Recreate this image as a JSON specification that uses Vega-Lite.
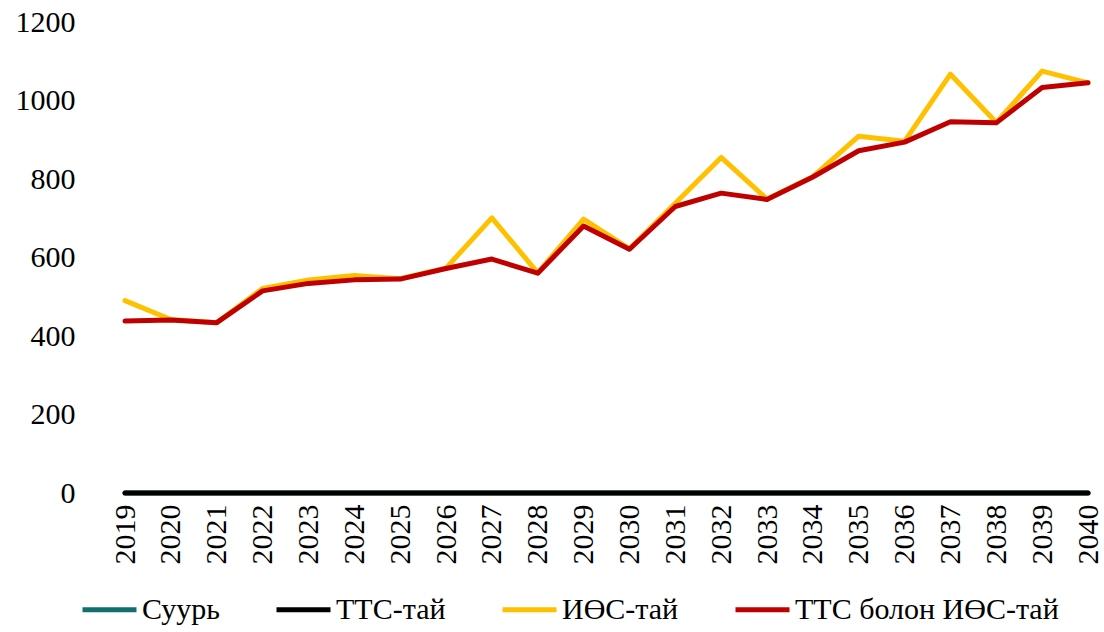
{
  "$schema": "https://vega.github.io/schema/vega-lite/v6.json",
  "autosize": {"type": "none"},
  "width": 1002,
  "height": 471,
  "padding": {"left": 102, "top": 22, "right": 0, "bottom": 139},
  "background": "white",
  "config": {
    "view": {"stroke": null},
    "font": "Liberation Serif",
    "axis": {"labelFont": "Liberation Serif", "labelColor": "#000000", "labelFontSize": 30, "ticks": false, "domain": false, "title": null},
    "legend": {"labelFont": "Liberation Serif", "labelFontSize": 30, "labelColor": "#000000"}
  },
  "data": {
    "values": [
      {"year": "2019", "Суурь": 0, "ТТС-тай": 0, "ИӨС-тай": 490, "ТТС болон ИӨС-тай": 438},
      {"year": "2020", "Суурь": 0, "ТТС-тай": 0, "ИӨС-тай": 442, "ТТС болон ИӨС-тай": 441},
      {"year": "2021", "Суурь": 0, "ТТС-тай": 0, "ИӨС-тай": 434, "ТТС болон ИӨС-тай": 434},
      {"year": "2022", "Суурь": 0, "ТТС-тай": 0, "ИӨС-тай": 521, "ТТС болон ИӨС-тай": 515},
      {"year": "2023", "Суурь": 0, "ТТС-тай": 0, "ИӨС-тай": 543, "ТТС болон ИӨС-тай": 534},
      {"year": "2024", "Суурь": 0, "ТТС-тай": 0, "ИӨС-тай": 554, "ТТС болон ИӨС-тай": 543},
      {"year": "2025", "Суурь": 0, "ТТС-тай": 0, "ИӨС-тай": 546, "ТТС болон ИӨС-тай": 545},
      {"year": "2026", "Суурь": 0, "ТТС-тай": 0, "ИӨС-тай": 573, "ТТС болон ИӨС-тай": 572},
      {"year": "2027", "Суурь": 0, "ТТС-тай": 0, "ИӨС-тай": 701, "ТТС болон ИӨС-тай": 596},
      {"year": "2028", "Суурь": 0, "ТТС-тай": 0, "ИӨС-тай": 561, "ТТС болон ИӨС-тай": 560},
      {"year": "2029", "Суурь": 0, "ТТС-тай": 0, "ИӨС-тай": 698, "ТТС болон ИӨС-тай": 680},
      {"year": "2030", "Суурь": 0, "ТТС-тай": 0, "ИӨС-тай": 622, "ТТС болон ИӨС-тай": 621},
      {"year": "2031", "Суурь": 0, "ТТС-тай": 0, "ИӨС-тай": 738, "ТТС болон ИӨС-тай": 730},
      {"year": "2032", "Суурь": 0, "ТТС-тай": 0, "ИӨС-тай": 855, "ТТС болон ИӨС-тай": 764},
      {"year": "2033", "Суурь": 0, "ТТС-тай": 0, "ИӨС-тай": 749, "ТТС болон ИӨС-тай": 748},
      {"year": "2034", "Суурь": 0, "ТТС-тай": 0, "ИӨС-тай": 806, "ТТС болон ИӨС-тай": 805},
      {"year": "2035", "Суурь": 0, "ТТС-тай": 0, "ИӨС-тай": 909, "ТТС болон ИӨС-тай": 872},
      {"year": "2036", "Суурь": 0, "ТТС-тай": 0, "ИӨС-тай": 896, "ТТС болон ИӨС-тай": 894},
      {"year": "2037", "Суурь": 0, "ТТС-тай": 0, "ИӨС-тай": 1067, "ТТС болон ИӨС-тай": 946},
      {"year": "2038", "Суурь": 0, "ТТС-тай": 0, "ИӨС-тай": 944, "ТТС болон ИӨС-тай": 943},
      {"year": "2039", "Суурь": 0, "ТТС-тай": 0, "ИӨС-тай": 1075, "ТТС болон ИӨС-тай": 1033},
      {"year": "2040", "Суурь": 0, "ТТС-тай": 0, "ИӨС-тай": 1045, "ТТС болон ИӨС-тай": 1045}
    ]
  },
  "transform": [
    {"fold": ["Суурь", "ТТС-тай", "ИӨС-тай", "ТТС болон ИӨС-тай"], "as": ["series", "value"]}
  ],
  "encoding": {
    "x": {
      "field": "year", "type": "ordinal",
      "scale": {"type": "point", "range": [23, 986], "padding": 0},
      "axis": {"labelAngle": -90, "labelAlign": "right", "labelBaseline": "middle", "labelPadding": 11, "grid": false}
    },
    "y": {
      "field": "value", "type": "quantitative",
      "scale": {"domain": [0, 1200], "nice": false},
      "axis": {
        "values": [0, 200, 400, 600, 800, 1000, 1200],
        "format": "d",
        "labelPadding": 27,
        "grid": true,
        "gridColor": {"condition": {"test": "datum.value === 0", "value": "#d9d9d9"}, "value": "transparent"},
        "gridWidth": 2
      }
    },
    "color": {
      "field": "series", "type": "nominal",
      "scale": {
        "domain": ["Суурь", "ТТС-тай", "ИӨС-тай", "ТТС болон ИӨС-тай"],
        "range": ["#12706c", "#000000", "#FFC000", "#C00000"]
      },
      "legend": {
        "title": null,
        "orient": "none",
        "direction": "horizontal",
        "legendX": -22,
        "legendY": 558,
        "symbolType": "stroke",
        "symbolSize": 2916,
        "symbolStrokeWidth": 5,
        "labelOffset": 3,
        "labelLimit": 0,
        "columnPadding": 46
      }
    }
  },
  "layer": [
    {"transform": [{"filter": "datum.series === 'Суурь'"}], "mark": {"type": "line", "strokeWidth": 5, "strokeCap": "round", "strokeJoin": "round"}},
    {"transform": [{"filter": "datum.series === 'ТТС-тай'"}], "mark": {"type": "line", "strokeWidth": 5, "strokeCap": "round", "strokeJoin": "round"}},
    {"transform": [{"filter": "datum.series === 'ИӨС-тай'"}], "mark": {"type": "line", "strokeWidth": 5, "strokeCap": "round", "strokeJoin": "round"}},
    {"transform": [{"filter": "datum.series === 'ТТС болон ИӨС-тай'"}], "mark": {"type": "line", "strokeWidth": 5, "strokeCap": "round", "strokeJoin": "round"}}
  ]
}
